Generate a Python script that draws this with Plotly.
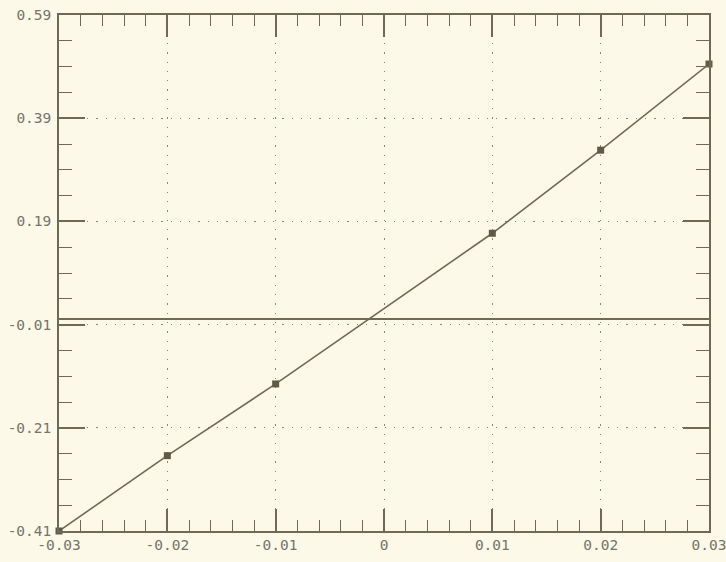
import plotly.graph_objects as go

x_vals = [-0.03, -0.02, -0.01, 0.01, 0.02, 0.03]
y_vals = [-0.41, -0.264, -0.125, 0.167, 0.328, 0.495]

x_ticks = [-0.03, -0.02, -0.01, 0.0, 0.01, 0.02, 0.03]
x_labels = ["-0.03", "-0.02", "-0.01", "0", "0.01", "0.02", "0.03"]
y_ticks = [-0.41, -0.21, -0.01, 0.19, 0.39, 0.59]
y_labels = ["-0.41", "-0.21", "-0.01", "0.19", "0.39", "0.59"]

ink = "#6f6a58"
grid = "#8a8570"
bg = "#fcf9e8"
txt = "#76736a"

fig = go.Figure()
fig.add_trace(go.Scatter(
    x=x_vals, y=y_vals, mode="lines+markers",
    line=dict(color=ink, width=1.6),
    marker=dict(symbol="square", size=7, color="#5f5a48"),
    cliponaxis=False, showlegend=False,
))

axis_common = dict(
    showline=True, linecolor=ink, linewidth=1.6, mirror="allticks",
    ticks="inside", tickcolor=ink, tickwidth=1.6, automargin=False,
    ticklabeloverflow="allow",
    showgrid=True, gridcolor=grid, gridwidth=1.3, griddash="1.3px,8px",
    tickfont=dict(family="DejaVu Sans Mono", size=14.5, color=txt),
)

fig.update_xaxes(
    range=[-0.03, 0.03], tickvals=x_ticks, ticktext=x_labels, ticklen=22,
    zeroline=False,
    minor=dict(tick0=-0.03, dtick=0.002, ticks="inside", ticklen=11,
               tickcolor=ink, tickwidth=1.4, showgrid=False),
    **axis_common,
)
fig.update_yaxes(
    range=[-0.41, 0.59], tickvals=y_ticks, ticktext=y_labels, ticklen=26,
    ticklabelstandoff=3,
    zeroline=True, zerolinecolor=ink, zerolinewidth=1.6,
    minor=dict(tick0=-0.41, dtick=0.05, ticks="inside", ticklen=13,
               tickcolor=ink, tickwidth=1.4, showgrid=False),
    **axis_common,
)

fig.update_layout(
    width=726, height=562,
    margin=dict(l=59, r=17, t=15, b=31, pad=0),
    paper_bgcolor=bg, plot_bgcolor=bg,
)

fig.write_html(
    "out.html",
    config={"displayModeBar": False},
    post_script="document.body.style.margin='0';document.body.style.background='%s';" % bg,
)
